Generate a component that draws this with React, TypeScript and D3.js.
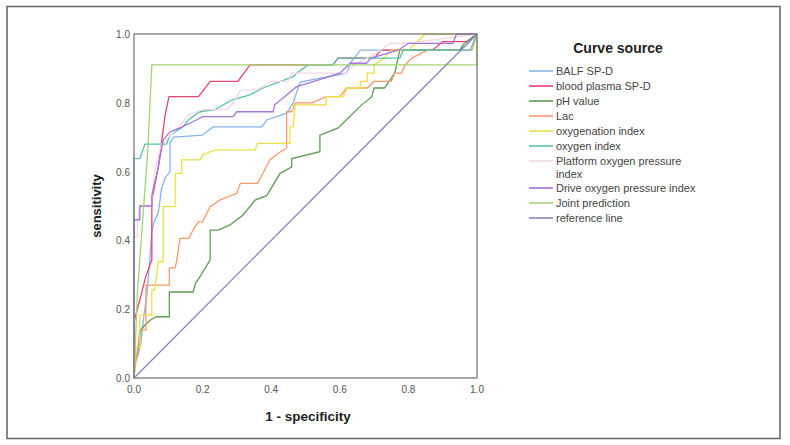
import { useEffect, useRef } from "react";
import * as d3 from "d3";

type Pt = [number, number];

const seriesNames = [
  "BALF SP-D",
  "blood plasma SP-D",
  "pH value",
  "Lac",
  "oxygenation index",
  "oxygen index",
  "Platform oxygen pressure index",
  "Drive oxygen pressure index",
  "Joint prediction",
  "reference line",
];

const seriesColors = [
  "#86b4ea",
  "#e0446c",
  "#5c9e52",
  "#f99a6c",
  "#ece044",
  "#54c2b2",
  "#f6d6e6",
  "#a474da",
  "#a6d272",
  "#8284c4",
];

const balf: Pt[] = [
  [0, 0], [0, 0.04], [0.01, 0.06], [0.02, 0.1], [0.025, 0.15], [0.037, 0.24], [0.045, 0.33],
  [0.052, 0.43], [0.061, 0.46], [0.071, 0.48], [0.08, 0.55], [0.09, 0.58], [0.105, 0.6],
  [0.105, 0.683], [0.115, 0.7], [0.2, 0.706], [0.23, 0.73], [0.373, 0.73], [0.387, 0.75],
  [0.446, 0.77], [0.464, 0.8], [0.484, 0.86], [0.62, 0.886], [0.63, 0.915], [0.66, 0.953],
  [0.95, 0.953], [0.97, 0.97], [1, 1],
];

const plasma: Pt[] = [
  [0, 0], [0, 0.163], [0.017, 0.227], [0.034, 0.294], [0.052, 0.343], [0.052, 0.517],
  [0.071, 0.614], [0.085, 0.721], [0.09, 0.76], [0.102, 0.818], [0.188, 0.818], [0.222, 0.862],
  [0.303, 0.862], [0.338, 0.91], [0.58, 0.91], [0.595, 0.93], [0.7, 0.93], [0.72, 0.953],
  [0.87, 0.953], [0.9, 0.978], [0.97, 0.978], [1, 1],
];

const ph: Pt[] = [
  [0, 0], [0, 0.05], [0.01, 0.07], [0.02, 0.14], [0.032, 0.154], [0.05, 0.17], [0.066, 0.178],
  [0.103, 0.178], [0.103, 0.25], [0.172, 0.25], [0.18, 0.276], [0.192, 0.294], [0.222, 0.343],
  [0.222, 0.43], [0.245, 0.43], [0.28, 0.445], [0.318, 0.474], [0.353, 0.517], [0.387, 0.53],
  [0.426, 0.595], [0.46, 0.614], [0.46, 0.638], [0.542, 0.658], [0.542, 0.706], [0.595, 0.727],
  [0.664, 0.794], [0.693, 0.817], [0.7, 0.843], [0.73, 0.843], [0.76, 0.886], [0.775, 0.953],
  [0.95, 0.953], [0.96, 0.97], [1, 1],
];

const lac: Pt[] = [
  [0, 0], [0.017, 0.14], [0.035, 0.14], [0.035, 0.27], [0.103, 0.27], [0.103, 0.32], [0.12, 0.32],
  [0.125, 0.343], [0.134, 0.406], [0.16, 0.406], [0.172, 0.43], [0.187, 0.454], [0.2, 0.454],
  [0.222, 0.498], [0.25, 0.517], [0.3, 0.537], [0.31, 0.566], [0.36, 0.566], [0.376, 0.595],
  [0.396, 0.634], [0.43, 0.66], [0.445, 0.668], [0.445, 0.774], [0.46, 0.774], [0.47, 0.8],
  [0.52, 0.8], [0.56, 0.818], [0.6, 0.818], [0.62, 0.843], [0.68, 0.843], [0.7, 0.862],
  [0.75, 0.862], [0.76, 0.886], [0.78, 0.886], [0.79, 0.91], [0.81, 0.93], [0.855, 0.953],
  [0.985, 0.953], [1, 1],
];

const oxygenation: Pt[] = [
  [0, 0], [0.005, 0.09], [0.017, 0.09], [0.017, 0.183], [0.052, 0.183], [0.052, 0.256],
  [0.06, 0.256], [0.071, 0.338], [0.085, 0.338], [0.085, 0.498], [0.12, 0.498], [0.12, 0.595],
  [0.139, 0.595], [0.139, 0.634], [0.192, 0.634], [0.2, 0.648], [0.236, 0.663], [0.353, 0.663],
  [0.36, 0.682], [0.455, 0.682], [0.455, 0.73], [0.464, 0.73], [0.47, 0.794], [0.56, 0.794],
  [0.56, 0.818], [0.61, 0.818], [0.62, 0.843], [0.66, 0.843], [0.66, 0.862], [0.68, 0.862],
  [0.68, 0.886], [0.7, 0.886], [0.7, 0.91], [0.73, 0.93], [0.75, 0.953], [0.8, 0.953],
  [0.85, 1], [1, 1],
];

const oxygen: Pt[] = [
  [0, 0], [0, 0.638], [0.017, 0.638], [0.032, 0.68], [0.095, 0.68], [0.105, 0.706],
  [0.143, 0.73], [0.158, 0.75], [0.192, 0.774], [0.236, 0.78], [0.285, 0.808], [0.338, 0.823],
  [0.376, 0.843], [0.416, 0.858], [0.464, 0.876], [0.474, 0.886], [0.508, 0.91], [0.58, 0.91],
  [0.595, 0.93], [0.775, 0.93], [0.785, 0.953], [0.98, 0.953], [1, 1],
];

const platform: Pt[] = [
  [0, 0], [0, 0.41], [0.01, 0.41], [0.01, 0.45], [0.017, 0.5], [0.05, 0.5], [0.06, 0.6],
  [0.08, 0.68], [0.1, 0.7], [0.13, 0.73], [0.16, 0.765], [0.2, 0.78], [0.27, 0.78], [0.29, 0.8],
  [0.31, 0.837], [0.34, 0.837], [0.37, 0.843], [0.4, 0.862], [0.45, 0.862], [0.46, 0.886],
  [0.62, 0.886], [0.64, 0.91], [0.68, 0.93], [0.72, 0.953], [0.746, 0.973], [0.8, 0.973],
  [0.85, 0.98], [1, 1],
];

const drive: Pt[] = [
  [0, 0], [0, 0.46], [0.017, 0.46], [0.017, 0.5], [0.052, 0.5], [0.052, 0.53], [0.071, 0.614],
  [0.085, 0.692], [0.105, 0.716], [0.134, 0.727], [0.172, 0.745], [0.2, 0.76], [0.289, 0.76],
  [0.3, 0.774], [0.406, 0.774], [0.41, 0.794], [0.44, 0.818], [0.474, 0.847], [0.518, 0.86],
  [0.6, 0.886], [0.63, 0.915], [0.678, 0.915], [0.69, 0.93], [0.77, 0.953], [0.8, 0.973],
  [0.93, 0.973], [0.94, 1], [1, 1],
];

const joint: Pt[] = [
  [0, 0], [0.01, 0.25], [0.04, 0.66], [0.052, 0.91], [1, 0.91], [1, 1],
];

const reference: Pt[] = [
  [0, 0], [1, 1],
];

const allSeries = [balf, plasma, ph, lac, oxygenation, oxygen, platform, drive, joint, reference];

const tickValues = [0, 0.2, 0.4, 0.6, 0.8, 1.0];

const App = () => {
  const ref = useRef<SVGSVGElement>(null);

  useEffect(() => {
    const svg = d3.select(ref.current);
    svg.selectAll("*").remove();

    const x = d3.scaleLinear().domain([0, 1]).range([134, 477]);
    const y = d3.scaleLinear().domain([0, 1]).range([378, 34]);

    // outer frame
    svg
      .append("rect")
      .attr("x", 7)
      .attr("y", 6.5)
      .attr("width", 773)
      .attr("height", 432)
      .attr("fill", "white")
      .attr("stroke", "#6a6a6a")
      .attr("stroke-width", 1.6);

    const line = d3
      .line<Pt>()
      .x((d) => x(d[0]))
      .y((d) => y(d[1]));

    const lines = svg.append("g").attr("fill", "none").attr("stroke-width", 1.3);
    allSeries.forEach((data, i) => {
      lines
        .append("path")
        .attr("d", line(data))
        .attr("stroke", seriesColors[i]);
    });

    // plot box
    svg
      .append("rect")
      .attr("x", 134)
      .attr("y", 34)
      .attr("width", 343)
      .attr("height", 344)
      .attr("fill", "none")
      .attr("stroke", "#7a7a7a")
      .attr("stroke-width", 1.3);

    const fmt = d3.format(".1f");
    const axisText = svg
      .append("g")
      .attr("font-family", "Liberation Sans, Arial, sans-serif")
      .attr("font-size", 10)
      .attr("fill", "#555");

    axisText
      .selectAll("text.yt")
      .data(tickValues)
      .join("text")
      .attr("x", 130)
      .attr("y", (d) => y(d))
      .attr("dy", "0.4em")
      .attr("text-anchor", "end")
      .text((d) => fmt(d));

    axisText
      .selectAll("text.xt")
      .data(tickValues)
      .join("text")
      .attr("x", (d) => x(d))
      .attr("y", 393)
      .attr("text-anchor", "middle")
      .text((d) => fmt(d));

    svg
      .append("text")
      .attr("transform", "translate(101,206) rotate(-90)")
      .attr("text-anchor", "middle")
      .attr("font-family", "Liberation Sans, Arial, sans-serif")
      .attr("font-weight", "bold")
      .attr("font-size", 13)
      .attr("fill", "#222")
      .text("sensitivity");

    svg
      .append("text")
      .attr("x", 308)
      .attr("y", 421)
      .attr("text-anchor", "middle")
      .attr("font-family", "Liberation Sans, Arial, sans-serif")
      .attr("font-weight", "bold")
      .attr("font-size", 13.5)
      .attr("fill", "#222")
      .text("1 - specificity");

    // legend
    const legend = svg
      .append("g")
      .attr("font-family", "Liberation Sans, Arial, sans-serif")
      .attr("fill", "#444");

    legend
      .append("text")
      .attr("x", 618)
      .attr("y", 53)
      .attr("text-anchor", "middle")
      .attr("font-weight", "bold")
      .attr("font-size", 14)
      .attr("fill", "#222")
      .text("Curve source");

    let rowY = 71;
    seriesNames.forEach((name, i) => {
      legend
        .append("line")
        .attr("x1", 529)
        .attr("x2", 553)
        .attr("y1", rowY)
        .attr("y2", rowY)
        .attr("stroke", seriesColors[i])
        .attr("stroke-width", 1.6);
      if (name === "Platform oxygen pressure index") {
        legend
          .append("text")
          .attr("x", 556)
          .attr("y", rowY + 4)
          .attr("font-size", 11)
          .text("Platform oxygen pressure");
        legend
          .append("text")
          .attr("x", 556)
          .attr("y", rowY + 17)
          .attr("font-size", 11)
          .text("index");
        rowY += 27;
      } else {
        legend
          .append("text")
          .attr("x", 556)
          .attr("y", rowY + 4)
          .attr("font-size", 11)
          .text(name);
        rowY += 15;
      }
    });
  }, []);

  return (
    <svg
      ref={ref}
      width="790"
      height="445"
      style={{ position: "absolute", left: 0, top: 0 }}
    ></svg>
  );
};

export default App;
